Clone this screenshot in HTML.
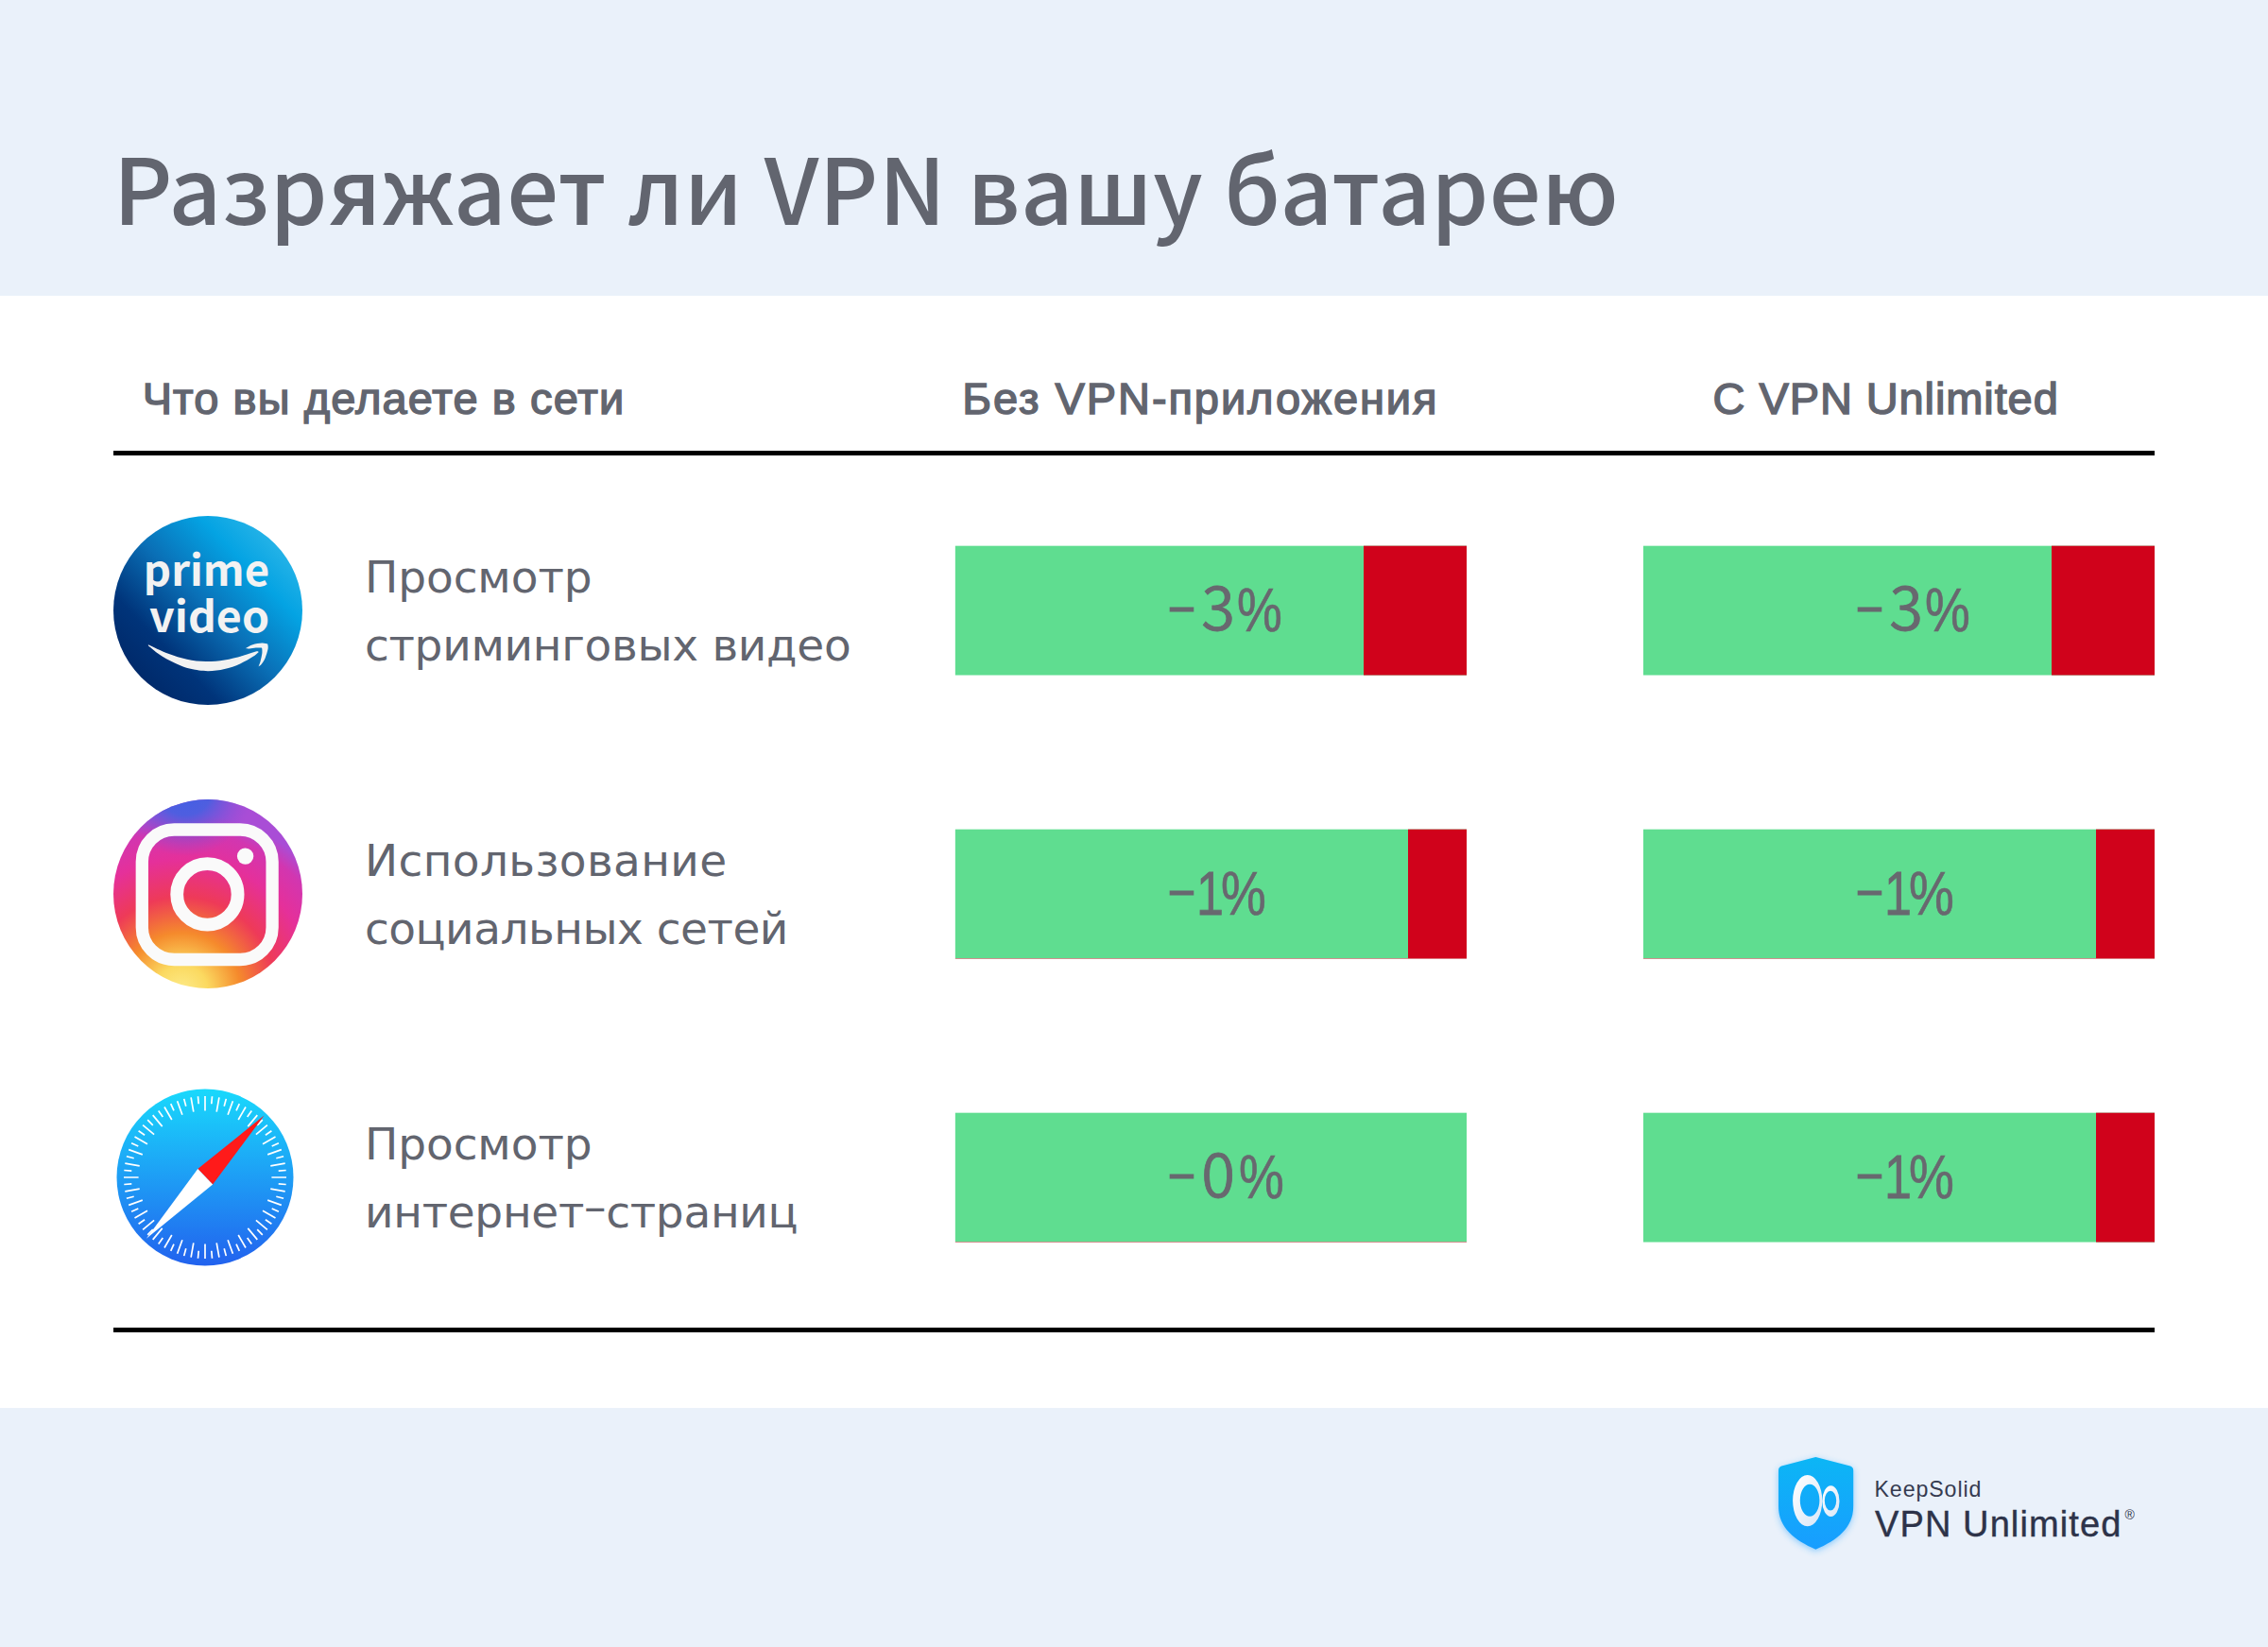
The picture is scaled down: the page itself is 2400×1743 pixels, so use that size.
<!DOCTYPE html>
<html lang="ru">
<head>
<meta charset="utf-8">
<title>Разряжает ли VPN вашу батарею</title>
<style>
html,body{margin:0;padding:0;}
body{width:2400px;height:1743px;position:relative;overflow:hidden;background:#fff;font-family:"Liberation Sans","Noto Sans CJK SC",sans-serif;color:#62656f;}
.abs{position:absolute;white-space:nowrap;}
.band-top{position:absolute;left:0;top:0;width:2400px;height:313px;background:#eaf1fa;}
.band-bot{position:absolute;left:0;top:1490px;width:2400px;height:253px;background:#eaf1fa;}
h1{position:absolute;left:119.7px;top:125.5px;letter-spacing:0.34px;margin:0;white-space:nowrap;font-family:"Noto Sans CJK SC","Liberation Sans",sans-serif;font-weight:500;font-size:97px;line-height:140px;color:#62656f;}
.hr{position:absolute;left:120px;width:2160px;height:5px;background:#000;}
.th{position:absolute;top:392px;white-space:nowrap;font-weight:400;font-size:47px;line-height:60px;color:#62656f;-webkit-text-stroke:1.5px #62656f;}
.lbl{position:absolute;left:386px;white-space:nowrap;font-family:"DejaVu Sans","Liberation Sans",sans-serif;font-size:47px;line-height:72px;letter-spacing:-0.3px;color:#62656f;}
.bar{position:absolute;width:541.15px;height:136.7px;}
.bar span{position:absolute;top:14.8px;font-family:'Noto Sans CJK SC','Liberation Sans',sans-serif;font-weight:350;font-size:65px;line-height:94px;color:#68686f;white-space:nowrap;transform-origin:0 50%;-webkit-text-stroke:0.8px #68686f;}
.bar .m{left:224.8px;top:16px;transform:scaleX(0.81);}
.bar .d{left:260.3px;}
.bar .d1{left:255px;top:21px;font-family:'Liberation Sans',sans-serif;font-weight:400;transform:scaleX(0.8);}
.bar .p{left:298.5px;top:21px;font-family:'Liberation Sans',sans-serif;font-weight:400;-webkit-text-stroke:0.7px #68686f;transform:scaleX(0.826);}
.bar .p1{left:281.2px;}
.bar .p0{left:300.6px;}
</style>
</head>
<body>
<div class="band-top"></div>
<div class="band-bot"></div>
<h1>Разряжает ли VPN вашу батарею</h1>

<div class="th" style="left:150.7px;letter-spacing:1.1px">Что вы делаете в сети</div>
<div class="th" style="left:1018.2px;letter-spacing:1.93px">Без VPN-приложения</div>
<div class="th" style="left:1812.6px;letter-spacing:0.9px">С VPN Unlimited</div>
<div class="hr" style="top:477px"></div>
<div class="hr" style="top:1405px"></div>

<div class="lbl" style="top:574.8px"><span style="letter-spacing:-0.1px">Просмотр</span><br><span style="letter-spacing:-0.3px">стриминговых видео</span></div>
<div class="lbl" style="top:874.8px"><span style="letter-spacing:0.37px">Использование</span><br><span style="letter-spacing:-0.5px">социальных сетей</span></div>
<div class="lbl" style="top:1174.8px"><span style="letter-spacing:-0.1px">Просмотр</span><br><span style="letter-spacing:-0.3px">интернет<span style="position:relative;top:-6px">–</span>страниц</span></div>

<svg class="abs" style="left:0;top:0" width="2400" height="1743" viewBox="0 0 2400 1743">
<rect x="1010.85" y="577.67" width="541.15" height="136.85" fill="#5fdd90"/>
<rect x="1443.0" y="577.67" width="109" height="136.85" fill="#d0021b"/>
<rect x="1738.9" y="577.67" width="541.10" height="136.85" fill="#5fdd90"/>
<rect x="2171.0" y="577.67" width="109" height="136.85" fill="#d0021b"/>
<rect x="1010.85" y="1014.07" width="479.15" height="0.9" fill="#d0021b" opacity="0.55"/>
<rect x="1010.85" y="877.67" width="541.15" height="136.50" fill="#5fdd90"/>
<rect x="1490.0" y="877.67" width="62" height="136.85" fill="#d0021b"/>
<rect x="1738.9" y="1014.07" width="479.10" height="0.9" fill="#d0021b" opacity="0.55"/>
<rect x="1738.9" y="877.67" width="541.10" height="136.50" fill="#5fdd90"/>
<rect x="2218.0" y="877.67" width="62" height="136.85" fill="#d0021b"/>
<rect x="1010.85" y="1314.07" width="541.15" height="0.9" fill="#d0021b" opacity="0.55"/>
<rect x="1010.85" y="1177.67" width="541.15" height="136.50" fill="#5fdd90"/>
<rect x="1738.9" y="1177.67" width="541.10" height="136.85" fill="#5fdd90"/>
<rect x="2218.0" y="1177.67" width="62" height="136.85" fill="#d0021b"/>
</svg>
<div class="bar" style="left:1010.85px;top:577.7px"><span class="m">−</span><span class="d">3</span><span class="p">%</span></div>
<div class="bar" style="left:1738.85px;top:577.7px"><span class="m">−</span><span class="d">3</span><span class="p">%</span></div>
<div class="bar" style="left:1010.85px;top:877.7px"><span class="m">−</span><span class="d d1">1</span><span class="p p1">%</span></div>
<div class="bar" style="left:1738.85px;top:877.7px"><span class="m">−</span><span class="d d1">1</span><span class="p p1">%</span></div>
<div class="bar" style="left:1010.85px;top:1177.7px"><span class="m">−</span><span class="d">0</span><span class="p p0">%</span></div>
<div class="bar" style="left:1738.85px;top:1177.7px"><span class="m">−</span><span class="d d1">1</span><span class="p p1">%</span></div>


<!-- prime video -->
<svg class="abs" style="left:120px;top:546px" width="200" height="200" viewBox="0 0 200 200">
<defs>
<linearGradient id="pv" x1="0.12" y1="0.88" x2="0.9" y2="0.12">
<stop offset="0" stop-color="#002868"/><stop offset="0.22" stop-color="#00347a"/><stop offset="0.5" stop-color="#0a6fb6"/><stop offset="0.78" stop-color="#04a3e3"/><stop offset="1" stop-color="#2cb6e8"/>
</linearGradient>
</defs>
<circle cx="100" cy="100" r="100" fill="url(#pv)"/>
<text x="31.8" y="73.6" font-family="Noto Sans CJK SC, Liberation Sans, sans-serif" font-weight="700" font-size="45" fill="#f2f2f2" textLength="133.4" lengthAdjust="spacingAndGlyphs">prime</text>
<text x="38" y="123" font-family="Noto Sans CJK SC, Liberation Sans, sans-serif" font-weight="700" font-size="45" fill="#f2f2f2" textLength="127" lengthAdjust="spacingAndGlyphs">video</text>
<path fill="#f2f2f2" d="M36.9 136.2C40.4 137.8 51.2 143.2 58.1 145.8C64.9 148.4 71.3 150.4 77.9 151.8C84.5 153.2 91.1 154.0 97.8 154.1C104.4 154.2 111.0 153.5 117.6 152.4C124.2 151.4 131.9 149.3 137.4 147.8C142.9 146.3 148.0 144.2 150.7 143.5C153.4 142.8 153.1 143.8 153.6 143.8L153.6 144.2C152.6 145.0 150.6 147.1 147.4 149.1C144.1 151.2 139.1 154.3 134.1 156.4C129.2 158.6 123.1 160.8 117.6 162.0C112.1 163.3 106 164.2 100 164.2C94 164.2 86.2 162.8 84 162.3C79 161.2 75.5 160 71.3 158.4C64.7 155.9 57.2 152.0 51.5 148.5C45.7 144.9 39.3 139.1 36.9 137.2Z"/>
<path fill="#f2f2f2" d="M140.1 139.9C141.3 139.3 144.5 137.1 147.4 136.2C150.2 135.4 154.6 134.7 157.3 134.6C159.9 134.5 162.2 135.4 163.2 135.6C163.3 136.4 164.0 138.1 163.6 140.5C163.1 143.0 161.7 147.7 160.6 150.5C159.4 153.2 157.8 155.6 156.6 157.1C155.5 158.6 154.1 159.0 153.6 159.4C154.0 158.4 155.0 156.0 155.6 153.8C156.2 151.5 157.0 148.0 157.3 145.8C157.6 143.6 157.4 141.6 157.3 140.5C157.2 139.5 156.7 139.7 156.6 139.5C155.6 139.5 152.8 139.4 150.7 139.5C148.6 139.7 145.8 140.5 144.0 140.5C142.3 140.6 140.7 140.0 140.1 139.9Z"/>
</svg>

<!-- instagram -->
<svg class="abs" style="left:120px;top:846px" width="200" height="200" viewBox="0 0 200 200">
<defs>
<radialGradient id="ig1" cx="0.36" cy="1.02" r="0.95" gradientUnits="objectBoundingBox">
<stop offset="0" stop-color="#fdec8c"/><stop offset="0.15" stop-color="#fbd960"/><stop offset="0.33" stop-color="#f58a2c"/><stop offset="0.53" stop-color="#ee3a58"/><stop offset="0.74" stop-color="#e5309a"/><stop offset="0.9" stop-color="#d236b0"/><stop offset="1.05" stop-color="#a94dd6"/>
</radialGradient>
<radialGradient id="ig2" cx="0.38" cy="-0.06" r="0.36" gradientUnits="objectBoundingBox">
<stop offset="0" stop-color="#3f5fe6"/><stop offset="0.4" stop-color="#4a5fe0" stop-opacity="0.95"/><stop offset="1" stop-color="#8a4cd6" stop-opacity="0"/>
</radialGradient>
<clipPath id="igc"><circle cx="100" cy="100" r="100"/></clipPath>
</defs>
<circle cx="100" cy="100" r="100" fill="url(#ig1)"/>
<circle cx="100" cy="100" r="100" fill="url(#ig2)"/>
<rect x="30.3" y="32" width="137.8" height="137.5" rx="34" ry="34" fill="none" stroke="#fafafa" stroke-width="13.3"/>
<circle cx="99.4" cy="100.4" r="32.2" fill="none" stroke="#fafafa" stroke-width="13.8"/>
<circle cx="139.6" cy="60.1" r="8.7" fill="#fafafa"/>
</svg>

<!-- safari -->
<svg class="abs" style="left:116.6px;top:1146.4px" width="200" height="200" viewBox="0 0 200 200">
<defs>
<linearGradient id="sf" x1="0" y1="0" x2="0" y2="1">
<stop offset="0" stop-color="#19d9fc"/><stop offset="1" stop-color="#2262ee"/>
</linearGradient>
</defs>
<circle cx="100" cy="100" r="93.5" fill="url(#sf)"/>
<path d="M100.0 29.6L100.0 14.0M106.8 22.3L107.5 14.3M112.2 30.7L114.9 15.3M120.2 24.7L122.3 16.9M124.1 33.8L129.4 19.2M133.0 29.3L136.3 22.1M135.2 39.0L143.0 25.5M144.7 36.1L149.3 29.6M145.3 46.1L155.3 34.1M155.2 44.8L160.8 39.2M153.9 54.7L165.9 44.7M163.9 55.3L170.4 50.7M161.0 64.8L174.5 57.0M170.7 67.0L177.9 63.7M166.2 75.9L180.8 70.6M175.3 79.8L183.1 77.7M169.3 87.8L184.7 85.1M177.7 93.2L185.7 92.5M170.4 100.0L186.0 100.0M177.7 106.8L185.7 107.5M169.3 112.2L184.7 114.9M175.3 120.2L183.1 122.3M166.2 124.1L180.8 129.4M170.7 133.0L177.9 136.3M161.0 135.2L174.5 143.0M163.9 144.7L170.4 149.3M153.9 145.3L165.9 155.3M155.2 155.2L160.8 160.8M145.3 153.9L155.3 165.9M144.7 163.9L149.3 170.4M135.2 161.0L143.0 174.5M133.0 170.7L136.3 177.9M124.1 166.2L129.4 180.8M120.2 175.3L122.3 183.1M112.2 169.3L114.9 184.7M106.8 177.7L107.5 185.7M100.0 170.4L100.0 186.0M93.2 177.7L92.5 185.7M87.8 169.3L85.1 184.7M79.8 175.3L77.7 183.1M75.9 166.2L70.6 180.8M67.0 170.7L63.7 177.9M64.8 161.0L57.0 174.5M55.3 163.9L50.7 170.4M54.7 153.9L44.7 165.9M44.8 155.2L39.2 160.8M46.1 145.3L34.1 155.3M36.1 144.7L29.6 149.3M39.0 135.2L25.5 143.0M29.3 133.0L22.1 136.3M33.8 124.1L19.2 129.4M24.7 120.2L16.9 122.3M30.7 112.2L15.3 114.9M22.3 106.8L14.3 107.5M29.6 100.0L14.0 100.0M22.3 93.2L14.3 92.5M30.7 87.8L15.3 85.1M24.7 79.8L16.9 77.7M33.8 75.9L19.2 70.6M29.3 67.0L22.1 63.7M39.0 64.8L25.5 57.0M36.1 55.3L29.6 50.7M46.1 54.7L34.1 44.7M44.8 44.8L39.2 39.2M54.7 46.1L44.7 34.1M55.3 36.1L50.7 29.6M64.8 39.0L57.0 25.5M67.0 29.3L63.7 22.1M75.9 33.8L70.6 19.2M79.8 24.7L77.7 16.9M87.8 30.7L85.1 15.3M93.2 22.3L92.5 14.3" stroke="#fff" stroke-width="1.7" fill="none"/>
<polygon points="162.5,34.6 92.3,91.1 108.1,107.5" fill="#ff1a1a"/>
<polygon points="37.9,164.7 92.3,91.1 108.1,107.5" fill="#fff"/>
</svg>


<svg class="abs" style="left:1862px;top:1522px;overflow:visible" width="120" height="140" viewBox="0 0 120 140">
<defs>
<linearGradient id="sh" x1="0" y1="0" x2="0" y2="1"><stop offset="0" stop-color="#0cb6f5"/><stop offset="1" stop-color="#189dff"/></linearGradient>
<linearGradient id="inf" x1="0" y1="0" x2="1" y2="1"><stop offset="0" stop-color="#ffffff"/><stop offset="1" stop-color="#d9e6f7"/></linearGradient>
<filter id="glow" x="-30%" y="-30%" width="160%" height="160%"><feGaussianBlur stdDeviation="3.5"/></filter>
</defs>
<path d="M59.4 22L96 31.4Q99.2 32.4 99.2 36L99.2 74C99.2 97 82 110 59.4 119.7C37 110 20 97 20 74L20 36Q20 32.4 23.2 31.4Z" fill="#2aa5ff" opacity="0.5" filter="url(#glow)"/>
<path d="M59.4 20L96 29.4Q99.2 30.4 99.2 34L99.2 72C99.2 95 82 108 59.4 117.7C37 108 20 95 20 72L20 34Q20 30.4 23.2 29.4Z" fill="url(#sh)"/>
<path fill="url(#inf)" fill-rule="evenodd" d="M35.1 66.1a15.6 27.1 0 1 0 31.2 0a15.6 27.1 0 1 0 -31.2 0ZM42.8 65.75a10.3 17 0 1 1 20.6 0a10.3 17 0 1 1 -20.6 0Z"/>
<path fill="url(#inf)" fill-rule="evenodd" d="M66.3 66.65a9.1 16.4 0 1 0 18.2 0a9.1 16.4 0 1 0 -18.2 0ZM68.8 66.1a6.2 10.4 0 1 1 12.4 0a6.2 10.4 0 1 1 -12.4 0Z"/>
</svg>
<div class="abs" id="ks" style="left:1983.5px;top:1559.3px;font-size:23.2px;line-height:34px;letter-spacing:0.9px;color:#353b50;">KeepSolid</div>
<div class="abs" id="vu" style="left:1984px;top:1588px;font-size:38px;line-height:50px;letter-spacing:1.1px;color:#2d3349;-webkit-text-stroke:0.4px #2d3349;">VPN Unlimited</div>
<div class="abs" id="reg" style="left:2248.5px;top:1594px;font-size:14px;line-height:18px;color:#2d3349;">®</div>

</body>
</html>
